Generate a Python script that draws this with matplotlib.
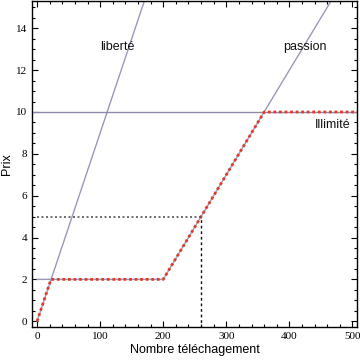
import matplotlib
matplotlib.use("Agg")
import matplotlib.pyplot as plt
from matplotlib.ticker import MultipleLocator

# Data
liberte_x = [0, 175]
liberte_y = [0, 15.75]
passion_x = [0, 200, 480]
passion_y = [2, 2, 16]
illimite_y = 10
best_x = [0, 22, 200, 360, 510]
best_y = [0, 2, 2, 10, 10]
budget_prix = 5
budget_n = 260
labels = ["liberté", "passion", "Illimité"]
label_pos = [(127, 13.1), (424, 13.1), (468, 9.4)]

fig = plt.figure(figsize=(3.6, 3.6), dpi=100)
ax = fig.add_axes([0.089, 0.092, 0.904, 0.905])

grey = "#9a98b8"
ax.plot(liberte_x, liberte_y, color=grey, lw=1.0)
ax.plot(passion_x, passion_y, color=grey, lw=1.0)
ax.axhline(illimite_y, color="#8a8aaa", lw=1.0)
ax.plot(best_x, best_y, color="#e03a2a", lw=2.0, ls=(0, (1, 1)), dash_capstyle="butt")
ax.plot([0, budget_n], [budget_prix, budget_prix], color="#555555", lw=1.2, ls=(0, (1.2, 1.5)))
ax.plot([budget_n, budget_n], [-0.3, budget_prix], color="#111111", lw=1.0, ls=(0, (2, 2)))

for t, (x, y) in zip(labels, label_pos):
    ax.text(x, y, t, ha="center", va="center", fontsize=9, family="Liberation Sans", color="#111111")

ax.set_xlim(-8, 508)
ax.set_ylim(-0.27, 15.3)
ax.xaxis.set_major_locator(MultipleLocator(100))
ax.xaxis.set_minor_locator(MultipleLocator(20))
ax.yaxis.set_major_locator(MultipleLocator(2))
ax.yaxis.set_minor_locator(MultipleLocator(0.5))
ax.tick_params(which="both", direction="in", top=True, right=True, labelsize=8, width=0.8)
ax.tick_params(which="major", length=4)
ax.tick_params(which="minor", length=2.5)
for lab in ax.get_xticklabels() + ax.get_yticklabels():
    lab.set_family("Liberation Serif")
for s in ax.spines.values():
    s.set_linewidth(1.0)

ax.set_xlabel("Nombre téléchagement", fontsize=9, family="Liberation Sans", labelpad=2)
ax.set_ylabel("Prix", fontsize=9, family="Liberation Sans", labelpad=2)

fig.savefig("out.png", dpi=100)
